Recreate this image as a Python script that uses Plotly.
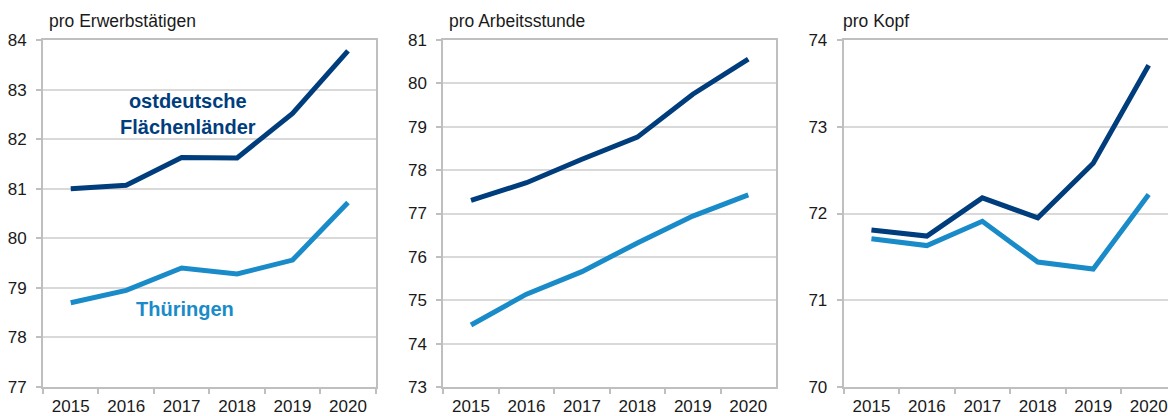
import plotly.graph_objects as go

years = ["2015", "2016", "2017", "2018", "2019", "2020"]

titles = ["pro Erwerbstätigen", "pro Arbeitsstunde", "pro Kopf"]

ost_erw = [81.00, 81.07, 81.63, 81.62, 82.52, 83.78]
thu_erw = [78.70, 78.95, 79.40, 79.28, 79.56, 80.72]

ost_std = [77.30, 77.71, 78.25, 78.76, 79.75, 80.56]
thu_std = [74.43, 75.14, 75.66, 76.32, 76.94, 77.43]

ost_kopf = [71.81, 71.74, 72.18, 71.95, 72.58, 73.71]
thu_kopf = [71.71, 71.63, 71.91, 71.44, 71.36, 72.22]

y_ranges = [(77, 84), (73, 81), (70, 74)]

label_ost = "ostdeutsche<br>Flächenländer"
label_thu = "Thüringen"

DARK = "#003d7d"
LIGHT = "#1a8bc9"
GRID = "#d9d9d9"
AXIS = "#bfbfbf"
FONT = "Liberation Sans, Arial, sans-serif"

W, H = 1168, 416


def px(x):
    return x / W


def py(y):
    return (H - y) / H


# pixel geometry of the three plot areas
lefts = [43, 443.3, 843.7]
rights = [376, 776, 1168]
top_px, bot_px = 40, 387
cat_w = 55.45

fig = go.Figure()

series = [(ost_erw, thu_erw), (ost_std, thu_std), (ost_kopf, thu_kopf)]

for i, (ost, thu) in enumerate(series):
    n = i + 1
    xa = "x" if n == 1 else f"x{n}"
    ya = "y" if n == 1 else f"y{n}"
    fig.add_trace(go.Scatter(x=years, y=thu, mode="lines", xaxis=xa, yaxis=ya,
                             line=dict(color=LIGHT, width=5), showlegend=False,
                             hoverinfo="skip"))
    fig.add_trace(go.Scatter(x=years, y=ost, mode="lines", xaxis=xa, yaxis=ya,
                             line=dict(color=DARK, width=5), showlegend=False,
                             hoverinfo="skip"))

layout = dict(
    width=W, height=H,
    margin=dict(l=0, r=0, t=0, b=0),
    paper_bgcolor="white", plot_bgcolor="white",
    font=dict(family=FONT, color="#1a1a1a", size=17),
    annotations=[],
)

for i in range(3):
    n = i + 1
    xkey = "xaxis" if n == 1 else f"xaxis{n}"
    ykey = "yaxis" if n == 1 else f"yaxis{n}"
    xanchor = "y" if n == 1 else f"y{n}"
    yanchor = "x" if n == 1 else f"x{n}"
    dom_x = [px(lefts[i]), min(1.0, px(rights[i]))]
    dom_y = [py(bot_px), py(top_px)]
    visible_cats = (rights[i] - lefts[i]) / cat_w
    layout[xkey] = dict(
        type="category", domain=dom_x, anchor=xanchor,
        range=[-0.5, -0.5 + visible_cats],
        showgrid=False, showline=True, linecolor=AXIS, linewidth=2,
        mirror=True, ticks="outside", tickson="boundaries", ticklen=5,
        tickcolor=AXIS, tickwidth=2, ticklabelstandoff=3,
        tickfont=dict(family=FONT, size=17, color="#1a1a1a"),
        fixedrange=True, automargin=False,
    )
    layout[ykey] = dict(
        domain=dom_y, anchor=yanchor, range=list(y_ranges[i]),
        dtick=1, showgrid=True, gridcolor=GRID, gridwidth=2,
        showline=True, linecolor=AXIS, linewidth=2,
        mirror=(n != 3), ticks="outside", ticklen=5, tickcolor=AXIS,
        tickwidth=2, ticklabelstandoff=6,
        tickfont=dict(family=FONT, size=17, color="#1a1a1a"),
        zeroline=False, fixedrange=True, automargin=False,
    )
    layout["annotations"].append(dict(
        text=titles[i], xref="paper", yref="paper",
        x=px(lefts[i] + (4 if i < 2 else -3)),
        y=py(21), xanchor="left", yanchor="middle", showarrow=False,
        font=dict(family=FONT, size=17.5, color="#1a1a1a"),
    ))

layout["annotations"].append(dict(
    text=label_ost, xref="paper", yref="paper",
    x=px(188), y=py(114), xanchor="center", yanchor="middle",
    showarrow=False, align="center",
    font=dict(family=FONT, size=20, color=DARK, weight="bold"),
))
layout["annotations"].append(dict(
    text=label_thu, xref="paper", yref="paper",
    x=px(185), y=py(309), xanchor="center", yanchor="middle",
    showarrow=False,
    font=dict(family=FONT, size=20, color=LIGHT, weight="bold"),
))

fig.update_layout(**layout)
fig.write_html(
    "out.html",
    config=dict(displayModeBar=False),
    post_script="document.body.style.margin='0';document.body.style.overflow='hidden';",
)
